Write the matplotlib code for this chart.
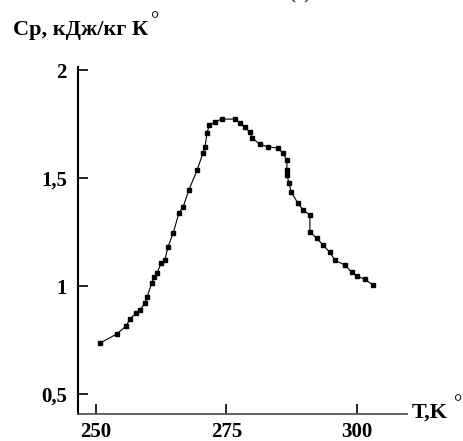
import numpy as np
import matplotlib.pyplot as plt

# Heat capacity curve
T = [250.8, 254.0, 255.8, 256.5, 257.7, 258.4, 259.4, 259.8, 260.7, 261.1,
     261.7, 262.5, 263.2, 263.8, 264.8, 265.9, 266.7, 267.8, 269.4, 270.5,
     270.9, 271.3, 271.7, 272.8, 274.1, 276.6, 277.6, 278.5, 279.5, 279.9,
     281.4, 283.0, 284.9, 285.8, 286.6, 286.6, 286.6, 287.0, 287.4, 288.7,
     289.7, 291.0, 291.0, 292.3, 293.5, 294.8, 295.8, 297.7, 299.0, 300.0,
     301.5, 303.1]
Cp = [0.736, 0.778, 0.815, 0.847, 0.875, 0.889, 0.921, 0.949, 1.014, 1.042,
      1.060, 1.106, 1.120, 1.181, 1.245, 1.338, 1.366, 1.444, 1.537, 1.616,
      1.644, 1.708, 1.745, 1.759, 1.773, 1.773, 1.755, 1.736, 1.713, 1.685,
      1.657, 1.644, 1.639, 1.616, 1.583, 1.537, 1.514, 1.477, 1.435, 1.384,
      1.352, 1.329, 1.250, 1.222, 1.190, 1.157, 1.120, 1.097, 1.065, 1.046,
      1.032, 1.005]

x_ticks = [250, 275, 300]
y_ticks = [0.5, 1, 1.5, 2]
y_tick_labels = ['0,5', '1', '1,5', '2']

plt.rcParams['font.family'] = ['Liberation Serif', 'DejaVu Serif']

fig = plt.figure(figsize=(4.64, 4.41), dpi=100)
ax = fig.add_axes([0.168, 0.061, 0.709, 0.787])

ax.plot(T, Cp, '-', color='black', lw=0.8, marker='s', markersize=2.4)

ax.set_xlim(246.55, 309.6)
ax.set_ylim(0.407, 2.014)

ax.set_xticks(x_ticks)
ax.set_xticklabels([str(t) for t in x_ticks], fontweight='bold', fontsize=15)
ax.set_yticks(y_ticks)
ax.set_yticklabels(y_tick_labels, fontweight='bold', fontsize=15)
ax.tick_params(axis='both', direction='in', length=7, width=1.2, pad=8, colors='black')
ax.tick_params(axis='x', pad=6)

ax.spines['top'].set_visible(False)
ax.spines['right'].set_visible(False)
ax.spines['left'].set_linewidth(1.5)
ax.spines['bottom'].set_linewidth(1.3)
ax.spines['bottom'].set_color('#555555')

# axis titles
fig.text(13 / 464, 1 - 35 / 441, 'Ср, кДж/кг К', fontsize=16, fontweight='bold',
         ha='left', va='baseline')
fig.text(155 / 464, 1 - 22 / 441, '°', fontsize=15, ha='center', va='center')
fig.text(412 / 464, 1 - 418 / 441, 'T,K', fontsize=16, fontweight='bold',
         ha='left', va='baseline')
fig.text(458 / 464, 1 - 405 / 441, '°', fontsize=15, ha='center', va='center')
fig.text(300 / 464, 1.014, '(а)', fontsize=15, ha='center', va='center')

fig.savefig('out.png', dpi=100)
